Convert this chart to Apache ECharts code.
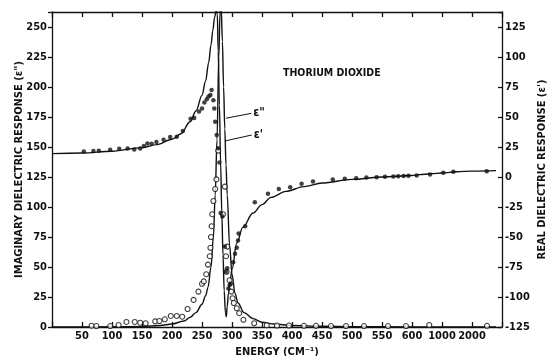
<!DOCTYPE html>
<html>
<head>
<meta charset="utf-8">
<title>Thorium dioxide - dielectric response</title>
<script src="https://cdn.jsdelivr.net/npm/echarts@6/dist/echarts.min.js"></script>
<style>
  html, body { margin: 0; padding: 0; background: #fff; }
  #chart { width: 549px; height: 356px; }
</style>
</head>
<body>
<div id="chart"></div>
<script>
// energy axis is broken after 600 cm-1: 1000 and 2000 each take one 50-step
var axisBreaks = [[0, 0], [600, 600], [1000, 650], [2000, 700], [3000, 750]];
var xTickLabels = ['', '50', '100', '150', '200', '250', '300', '350', '400', '450',
  '500', '550', '600', '1000', '2000', ''];

// imaginary part, fitted curve (left axis)
var imagCurveE = [0, 40, 100, 150, 180, 200, 220, 230, 240, 250, 256, 260, 265, 269, 272, 275,
  278, 280, 281, 282, 284, 286, 288, 290, 292, 296, 300, 305, 310, 320, 335, 350, 370, 400,
  450, 500, 600, 800, 1000, 2000, 2800];
var imagCurveV = [0, 0, 0.2, 0.5, 1.2, 2.5, 5, 8, 12, 19, 26, 33, 50, 75, 110, 156,
  225, 262, 272, 266, 238, 200, 165, 135, 110, 68, 44, 28, 20, 12, 7, 4, 2.5, 1.3,
  0.6, 0.3, 0.1, 0, 0, 0, 0];

// real part, fitted curve (right axis)
var realCurveE = [0, 50, 100, 150, 175, 200, 215, 230, 240, 250, 256, 261, 265, 268, 271, 274,
  275.5, 277, 279, 281, 283, 285, 287, 289, 290.5, 292, 294, 297, 300, 308, 318, 335, 350,
  365, 390, 420, 450, 500, 550, 600, 700, 850, 1000, 1500, 2000, 2800];
var realCurveV = [19.5, 20, 21.5, 24.5, 27, 31.5, 36, 46, 55, 68, 80, 95, 110, 122, 133, 140,
  136, 105, 60, 12, -30, -65, -95, -113, -116.6, -108, -97, -86, -77, -55, -42, -30, -23,
  -17, -12, -8, -5, -2, 0, 1.2, 2, 2.7, 3.3, 4.4, 4.9, 5.3];

// measured imaginary part (open circles, left axis)
var imagDotsE = [66, 74, 97, 111, 124, 138, 147, 156, 172, 179, 188, 198, 208, 217, 226, 236,
  244, 250, 253, 257, 260, 263, 264, 265, 266, 267, 269, 272, 274, 277,
  285, 288, 290, 291, 292, 296, 299, 301, 303, 308, 312, 319, 337, 358, 375, 395, 420, 440,
  465, 490, 520, 560, 590, 830, 2500];
var imagDotsV = [1.1, 0.8, 0.8, 1.7, 4.2, 4.2, 3.6, 3.1, 4.7, 5.0, 6.4, 9.2, 9.2, 8.6, 15, 22.6,
  29.5, 36, 38, 44, 52, 59, 66, 75, 84, 94, 105, 115, 123, 147,
  94, 117, 59, 46, 67, 39, 29.5, 24, 20, 15.6, 11.5, 6, 3.1, 1.5, 1.2, 1.2, 1, 1,
  0.8, 0.8, 0.8, 0.8, 0.8, 1.7, 1];

// measured real part (filled dots, right axis)
var realDotsE = [53, 69, 78, 97, 112, 126, 137, 147, 153, 159, 166, 174, 186, 197, 208, 218,
  231, 237, 245, 250, 254, 258, 261, 264, 266,
  269, 270.5, 272, 274.5, 277, 279, 281, 284,
  288, 290, 292, 294, 296, 298, 302, 305, 308, 310, 311, 322, 338, 360, 378, 397, 416, 435,
  468, 488, 507, 524, 541, 555, 569, 577, 586, 594, 662, 840, 1044, 1378, 2489];
var realDotsV = [21.3, 21.6, 21.9, 22.7, 23.5, 23.8, 23, 23.8, 25.8, 28, 27.7, 29.1, 31.1, 33.3, 33.6, 38.3,
  48.6, 49.2, 54.5, 57, 62, 64.8, 67, 68.4, 72.5,
  64, 57, 46, 35, 24, 12, -30, -33,
  -58, -79, -76, -93, -90, -89, -71, -64, -59, -53, -47, -41, -21, -14, -10, -8.5, -5.7, -3.8,
  -2.1, -1.5, -1, -0.4, -0.2, 0.2, 0.5, 0.7, 0.8, 1, 1.3, 2.1, 3.5, 4.3, 4.8];

// leader lines for the curve labels: [energy, left-axis value]
var imagLeader = [[290, 174], [332, 178]];
var realLeader = [[288, 155], [333, 160]];

function axisPos(e) {
  for (var i = 1; i < axisBreaks.length; i++) {
    var a = axisBreaks[i - 1], b = axisBreaks[i];
    if (e <= b[0] || i === axisBreaks.length - 1) {
      return a[1] + (e - a[0]) / (b[0] - a[0]) * (b[1] - a[1]);
    }
  }
}

function pairs(es, vs) {
  return es.map(function (e, i) { return [axisPos(e), vs[i]]; });
}

function leader(pts, text) {
  return pts.map(function (p, i) {
    var d = { coord: [axisPos(p[0]), p[1]] };
    if (i === 1) d.label = { formatter: text };
    return d;
  });
}

var font = "'DejaVu Sans Condensed', 'Liberation Sans Narrow', sans-serif";
var ink = '#111';

var chart = echarts.init(document.getElementById('chart'));

var xCommon = {
  type: 'value',
  min: 0,
  max: 750,
  interval: 50,
  splitLine: { show: false },
  axisLine: { onZero: false, lineStyle: { color: ink, width: 1.3 } },
  axisTick: { inside: true, length: 5, lineStyle: { color: ink, width: 1.3 } }
};

var yLabel = {
  color: ink,
  fontFamily: font,
  fontWeight: 'bold',
  fontSize: 11,
  formatter: function (v) { return v % 25 === 0 ? String(v) : ''; }
};

var option = {
  animation: false,
  backgroundColor: '#fff',
  title: {
    text: 'THORIUM DIOXIDE',
    left: 278,
    top: 63,
    textStyle: { color: ink, fontFamily: font, fontWeight: 'bold', fontSize: 10.5 }
  },
  grid: { left: 52, right: 47, top: 12, bottom: 29, outerBoundsMode: 'none' },
  xAxis: [
    Object.assign({}, xCommon, {
      position: 'bottom',
      name: 'ENERGY (CM⁻¹)',
      nameLocation: 'middle',
      nameGap: 20,
      nameTextStyle: { color: ink, fontFamily: font, fontWeight: 'bold', fontSize: 11 },
      axisLabel: {
        color: ink,
        fontFamily: font,
        fontWeight: 'bold',
        fontSize: 11,
        margin: 4,
        formatter: function (v) { return xTickLabels[Math.round(v / 50)] || ''; }
      }
    }),
    Object.assign({}, xCommon, {
      position: 'top',
      axisLabel: { show: false }
    })
  ],
  yAxis: [
    {
      type: 'value',
      position: 'left',
      min: 0,
      max: 262.5,
      interval: 25,
      name: 'IMAGINARY DIELECTRIC RESPONSE (ε")',
      nameLocation: 'middle',
      nameGap: 27,
      nameMoveOverlap: false,
      nameRotate: 90,
      nameTextStyle: { color: ink, fontFamily: font, fontWeight: 'bold', fontSize: 11 },
      splitLine: { show: false },
      axisLine: { show: true, onZero: false, lineStyle: { color: ink, width: 1.3 } },
      axisTick: { length: 4, lineStyle: { color: ink, width: 1.3 } },
      axisLabel: Object.assign({}, yLabel, { margin: 5 })
    },
    {
      type: 'value',
      position: 'right',
      min: -125,
      max: 137.5,
      interval: 25,
      name: "REAL DIELECTRIC RESPONSE (ε')",
      nameLocation: 'middle',
      nameGap: 35,
      nameMoveOverlap: false,
      nameRotate: 90,
      nameTextStyle: { color: ink, fontFamily: font, fontWeight: 'bold', fontSize: 11 },
      splitLine: { show: false },
      axisLine: { show: true, onZero: false, lineStyle: { color: ink, width: 1.3 } },
      axisTick: { inside: true, length: 4, lineStyle: { color: ink, width: 1.3 } },
      axisLabel: Object.assign({}, yLabel, { margin: 3 })
    }
  ],
  series: [
    {
      name: 'ε" fit',
      type: 'line',
      yAxisIndex: 0,
      data: pairs(imagCurveE, imagCurveV),
      showSymbol: false,
      smooth: 0.35,
      smoothMonotone: 'x',
      lineStyle: { color: ink, width: 1.4 },
      z: 3,
      markLine: {
        silent: true,
        symbol: 'none',
        lineStyle: { color: ink, width: 1, type: 'solid' },
        label: {
          position: 'end',
          distance: 2,
          color: ink,
          fontFamily: font,
          fontWeight: 'bold',
          fontSize: 12
        },
        data: [leader(imagLeader, 'ε"'), leader(realLeader, "ε'")]
      }
    },
    {
      name: "ε' fit",
      type: 'line',
      yAxisIndex: 1,
      data: pairs(realCurveE, realCurveV),
      showSymbol: false,
      smooth: 0.35,
      smoothMonotone: 'x',
      lineStyle: { color: ink, width: 1.4 },
      z: 3
    },
    {
      name: 'ε" measured',
      type: 'scatter',
      yAxisIndex: 0,
      data: pairs(imagDotsE, imagDotsV),
      symbol: 'circle',
      symbolSize: 5,
      itemStyle: { color: '#fff', borderColor: ink, borderWidth: 1.1 },
      z: 4
    },
    {
      name: "ε' measured",
      type: 'scatter',
      yAxisIndex: 1,
      data: pairs(realDotsE, realDotsV),
      symbol: 'circle',
      symbolSize: 4.5,
      itemStyle: { color: ink },
      z: 5
    }
  ]
};

chart.setOption(option);
</script>
</body>
</html>
